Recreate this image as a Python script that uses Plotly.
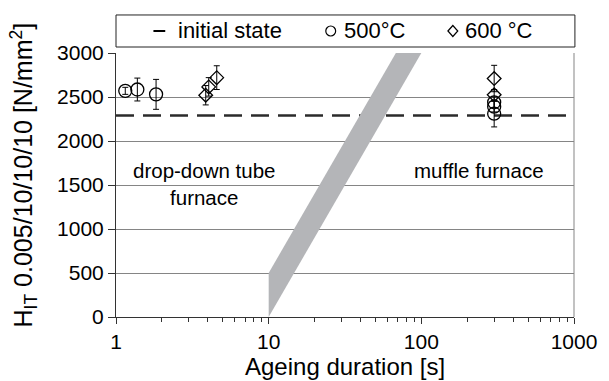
import plotly.graph_objects as go

# ---- data ----
initial_state = 2290
x_500 = [1.15, 1.38, 1.83, 300, 300, 300]
y_500 = [2570, 2585, 2530, 2440, 2390, 2310]
err_500 = [40, 130, 170, 60, 60, 150]

x_600 = [3.87, 4.05, 4.57, 300, 300]
y_600 = [2520, 2615, 2720, 2710, 2525]
err_600 = [110, 105, 135, 150, 60]

band_x = [10, 68.1, 100, 10]
band_y = [500, 3000, 3000, 0]

x_tickvals = [1, 10, 100, 1000]
y_tickvals = [0, 500, 1000, 1500, 2000, 2500, 3000]

FONT = "Arial, Liberation Sans, sans-serif"
FS_TICK = 21
FS_TEXT = 20.5
FS_XTITLE = 24
FS_YTITLE = 25
FS_LEG = 22

fig = go.Figure()

# initial state dashed line
fig.add_trace(go.Scatter(x=[1, 1000], y=[initial_state, initial_state], mode="lines",
                         line=dict(color="#2b2b2b", width=2.5, dash="18px,9px"),
                         showlegend=False, hoverinfo="skip"))
# grey band
fig.add_trace(go.Scatter(x=band_x, y=band_y, mode="lines", fill="toself",
                         fillcolor="#b4b5b8", line=dict(width=0),
                         showlegend=False, hoverinfo="skip"))
# 500 C
fig.add_trace(go.Scatter(x=x_500, y=y_500, mode="markers",
                         marker=dict(symbol="circle-open", size=13, color="black",
                                     line=dict(width=1.3, color="black")),
                         error_y=dict(type="data", array=err_500, color="black",
                                      thickness=1, width=3),
                         showlegend=False))
# 600 C
fig.add_trace(go.Scatter(x=x_600, y=y_600, mode="markers",
                         marker=dict(symbol="diamond-open", size=10.5, color="black",
                                     line=dict(width=1.3, color="black")),
                         error_y=dict(type="data", array=err_600, color="black",
                                      thickness=1, width=3),
                         showlegend=False))

fig.update_xaxes(type="log", range=[0, 3], tickvals=x_tickvals,
                 ticktext=[str(v) for v in x_tickvals],
                 ticks="outside", ticklen=6, tickcolor="#333", tickwidth=1,
                 showline=True, linecolor="#333", linewidth=1, mirror=False,
                 showgrid=False, zeroline=False,
                 minor=dict(ticks="outside", ticklen=4, tickcolor="#333",
                            dtick="D1", showgrid=False),
                 tickfont=dict(family=FONT, size=FS_TICK, color="black"))
fig.update_yaxes(range=[0, 3000], tickvals=y_tickvals,
                 ticks="outside", ticklen=7, tickcolor="#333", tickwidth=1,
                 showline=True, linecolor="#333", linewidth=1,
                 showgrid=True, gridcolor="#858585", gridwidth=1, zeroline=False,
                 tickfont=dict(family=FONT, size=FS_TICK, color="black"))

# legend geometry (paper coordinates)
LEG_Y0, LEG_Y1 = 1.0227, 1.144
LEG_YC = (LEG_Y0 + LEG_Y1) / 2
PW, PH = 465.0, 264.0  # plot size in px, for glyph sizing


def px_x(p):
    return p / PW


def px_y(p):
    return p / PH


circ_cx = (334 - 116) / PW
diam_cx = (458 - 116) / PW
dash_x0 = (154 - 116) / PW
dash_x1 = (166 - 116) / PW
r = 5.0
diamond_path = "M {x0} {yc} L {xc} {y1} L {x1} {yc} L {xc} {y0} Z".format(
    x0=diam_cx - px_x(r), x1=diam_cx + px_x(r), xc=diam_cx,
    yc=LEG_YC, y0=LEG_YC - px_y(r + 0.5), y1=LEG_YC + px_y(r + 0.5))

shapes = [
    # right border
    dict(type="line", xref="paper", yref="paper", x0=1, x1=1, y0=0, y1=1,
         line=dict(color="#858585", width=1)),
    # legend box
    dict(type="rect", xref="paper", yref="paper", x0=0, x1=1.002, y0=LEG_Y0, y1=LEG_Y1,
         line=dict(color="#222", width=1)),
    # legend symbols
    dict(type="line", xref="paper", yref="paper", x0=dash_x0, x1=dash_x1,
         y0=LEG_YC, y1=LEG_YC, line=dict(color="black", width=2)),
    dict(type="circle", xref="paper", yref="paper",
         x0=circ_cx - px_x(r), x1=circ_cx + px_x(r),
         y0=LEG_YC - px_y(r), y1=LEG_YC + px_y(r),
         line=dict(color="black", width=1.2)),
    dict(type="path", xref="paper", yref="paper", path=diamond_path,
         line=dict(color="black", width=1.2)),
]

annotations = [
    dict(text="drop-down tube<br>furnace", x=0.574, y=1506, xref="x", yref="y",
         xanchor="center", yanchor="middle",
         showarrow=False, font=dict(family=FONT, size=FS_TEXT, color="black")),
    dict(text="muffle furnace", x=2.38, y=1660, xref="x", yref="y",
         xanchor="center", yanchor="middle",
         showarrow=False, font=dict(family=FONT, size=FS_TEXT, color="black")),
    dict(text="initial state", x=(177 - 116) / PW, y=LEG_YC, xref="paper", yref="paper",
         xanchor="left", yanchor="middle", showarrow=False,
         font=dict(family=FONT, size=FS_LEG, color="black")),
    dict(text="500°C", x=(345 - 116) / PW, y=LEG_YC, xref="paper", yref="paper",
         xanchor="left", yanchor="middle", showarrow=False,
         font=dict(family=FONT, size=FS_LEG, color="black")),
    dict(text="600 °C", x=(468 - 116) / PW, y=LEG_YC, xref="paper", yref="paper",
         xanchor="left", yanchor="middle", showarrow=False,
         font=dict(family=FONT, size=FS_LEG, color="black")),
    dict(text="H<sub>IT</sub> 0.005/10/10/10 [N/mm<sup>2</sup>]", x=-0.202, y=0.538,
         xref="paper", yref="paper", xanchor="center", yanchor="middle",
         textangle=-90, showarrow=False,
         font=dict(family=FONT, size=FS_YTITLE, color="black")),
    dict(text="Ageing duration [s]", x=0.5, y=-0.186, xref="paper", yref="paper",
         xanchor="center", yanchor="middle", showarrow=False,
         font=dict(family=FONT, size=FS_XTITLE, color="black")),
]

fig.update_layout(width=609, height=381,
                  margin=dict(l=116, r=28, t=53, b=64, pad=0),
                  paper_bgcolor="white", plot_bgcolor="white",
                  shapes=shapes, annotations=annotations, showlegend=False)

fig.write_html("out.html")
